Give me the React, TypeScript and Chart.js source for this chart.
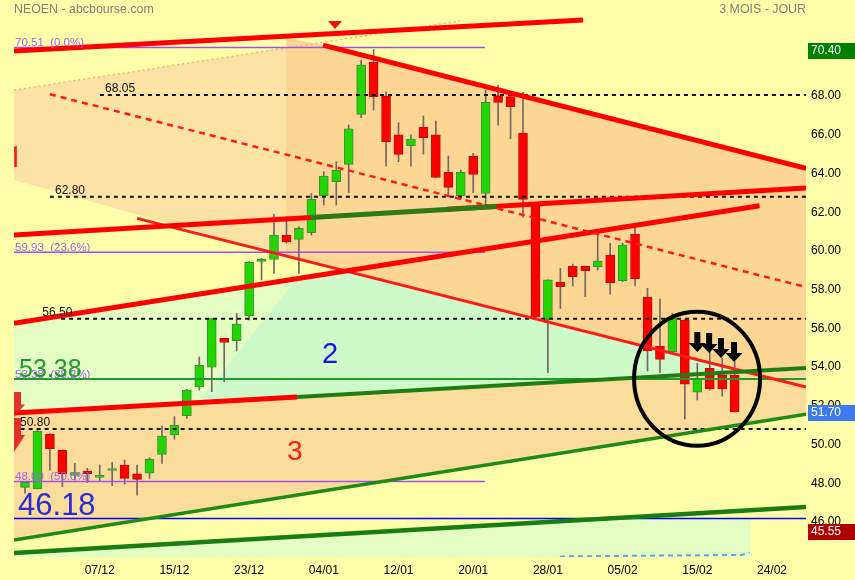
import React, { useEffect, useRef } from 'react';
import { Chart, registerables } from 'chart.js';

Chart.register(...registerables);

const FONT = "'Liberation Sans', Arial, sans-serif";

// ---- data ----
const dates = [
  '27/11', '30/11', '01/12', '02/12', '03/12', '04/12', '07/12', '08/12', '09/12', '10/12',
  '11/12', '14/12', '15/12', '16/12', '17/12', '18/12', '21/12', '22/12', '23/12', '24/12',
  '28/12', '29/12', '30/12', '31/12', '04/01', '05/01', '06/01', '07/01', '08/01', '11/01',
  '12/01', '13/01', '14/01', '15/01', '18/01', '19/01', '20/01', '21/01', '22/01', '25/01',
  '26/01', '27/01', '28/01', '29/01', '01/02', '02/02', '03/02', '04/02', '05/02', '08/02',
  '09/02', '10/02', '11/02', '12/02', '15/02', '16/02', '17/02', '18/02',
];
const opens = [
  47.79, 47.72, 50.54, 49.70, 48.40, 48.63, 48.30, 48.66, 48.94, 48.48,
  48.52, 49.49, 50.50, 51.49, 52.98, 53.99, 55.48, 55.36, 56.65, 59.46,
  59.56, 60.82, 60.60, 60.94, 62.85, 63.57, 64.47, 67.05, 69.74, 68.00,
  65.99, 65.43, 66.38, 65.99, 64.06, 62.85, 64.90, 62.97, 68.02, 67.97,
  66.08, 62.37, 56.43, 58.38, 59.20, 59.20, 59.18, 59.79, 58.46, 60.87,
  57.62, 55.09, 54.79, 56.43, 52.70, 53.93, 53.59, 53.59,
];
const highs = [
  48.10, 50.72, 50.56, 49.72, 49.03, 48.77, 48.94, 49.08, 49.20, 48.94,
  49.32, 50.95, 51.44, 52.85, 54.53, 56.52, 55.50, 56.77, 59.45, 59.62,
  61.90, 61.77, 61.25, 62.97, 64.09, 64.61, 66.50, 69.86, 70.40, 68.22,
  66.62, 65.99, 66.97, 66.71, 64.90, 64.18, 65.04, 68.31, 68.57, 68.00,
  68.19, 62.40, 58.50, 59.10, 59.32, 59.22, 60.87, 60.39, 60.39, 61.22,
  58.07, 57.51, 56.78, 56.45, 54.19, 54.88, 54.45, 54.28,
];
const lows = [
  47.49, 47.70, 48.68, 47.82, 48.17, 48.03, 48.13, 47.87, 47.96, 47.39,
  48.25, 49.03, 50.27, 51.35, 52.81, 52.73, 53.24, 54.84, 56.43, 58.50,
  58.84, 60.40, 58.84, 60.82, 62.37, 62.37, 63.01, 66.88, 67.28, 64.38,
  64.61, 64.38, 65.00, 63.80, 62.80, 62.66, 63.01, 62.37, 66.50, 65.80,
  61.73, 56.55, 53.71, 57.03, 58.19, 57.64, 59.01, 57.76, 58.41, 58.19,
  53.80, 53.71, 54.70, 51.32, 52.30, 52.80, 52.50, 51.68,
];
const closes = [
  48.05, 50.68, 49.78, 48.48, 48.55, 48.49, 48.42, 48.70, 48.25, 48.20,
  49.24, 50.44, 50.99, 52.81, 54.09, 56.50, 55.27, 56.22, 59.41, 59.58,
  60.82, 60.47, 61.17, 62.66, 63.87, 64.18, 66.30, 69.60, 67.97, 65.64,
  64.99, 65.78, 65.85, 63.80, 63.28, 64.06, 63.95, 67.67, 67.67, 67.45,
  62.66, 56.59, 58.50, 58.15, 58.67, 58.98, 59.48, 58.36, 60.30, 58.56,
  54.83, 54.40, 56.52, 53.12, 53.42, 52.87, 52.87, 51.70,
];

const xTickIndex = [6, 12, 18, 24, 30, 36, 42, 48, 54, 60];
const xTickLabels = ['07/12', '15/12', '23/12', '04/01', '12/01', '20/01', '28/01', '05/02', '15/02', '24/02'];
const yTicks = [46, 48, 50, 52, 54, 56, 58, 60, 62, 64, 66, 68];

const X_MIN = -0.884;
const X_MAX = 62.73;
const Y_MIN = 44.19;
const Y_MAX = 72.96;

// horizontal levels
const levelValues = [68.05, 62.8, 56.5, 50.8];
const levelLabels = ['68.05', '62.80', '56.50', '50.80'];
const levelLineStart = [6.02, 2.0, 2.9, -0.35];
const levelLabelStart = [6.43, 2.41, 1.39, -0.4];
const fibValues = [70.51, 59.93, 53.38, 48.09];
const fibLabels = ['70.51  (0.0%)', '59.93  (23.6%)', '53.38  (38.2%)', '48.09  (50.0%)'];
const fibEnd = 36.95;
const pivotValue = 53.38;
const supportValue = 46.18;
const priceMarks = [70.4, 51.7, 45.55];
const priceMarkColors = ['#008000', '#3C7BEF', '#B00000'];

// trend lines (x = day index, y = price)
const trendTop = [[-0.884, 70.32], [44.82, 71.93]];
const trendFall = [[23.94, 70.63], [62.73, 64.27]];
const trendMidDash = [[2.0, 68.09], [62.73, 58.13]];
const trendA1 = [[-0.884, 60.82], [22.97, 61.73]];
const trendA2 = [[22.97, 61.73], [37.91, 62.3]];
const trendA3 = [[33.9, 62.15], [62.73, 63.25]];
const trendRise = [[-0.884, 56.26], [59.0, 62.33]];
const trendFan = [[9.0, 61.68], [62.73, 52.97]];
const trendB1 = [[-0.884, 51.63], [21.85, 52.46]];
const trendB2 = [[21.85, 52.46], [62.73, 53.95]];
const trendC = [[-0.884, 45.07], [62.73, 51.57]];
const trendD = [[-0.884, 44.39], [62.73, 46.77]];
const trendDotted = [[-0.884, 68.31], [34.94, 71.87]];
const trendBlueDash = [[42.97, 44.22], [57.6, 44.3], [58.2, 44.42]];

// zones
const zoneLeftPeach = [[-0.884, 68.31], [20.96, 70.49], [20.96, 59.74], [-0.884, 63.66]];
const zoneRightPeach = [[20.96, 71.0], [23.94, 70.63], [62.73, 64.27], [62.73, 52.97], [20.96, 59.74]];
const zoneLowPeach = [[-0.884, 51.63], [62.73, 53.95], [62.73, 51.57], [-0.884, 45.07]];
const zoneLime = [[-0.884, 56.26], [25.77, 58.96], [57.83, 53.77], [-0.884, 51.63]];
const zoneMint = [[13.9, 52.17], [21.85, 58.56], [25.77, 58.96], [57.83, 53.77]];
const zoneBottom = [[-0.884, 44.39], [47.55, 46.18], [58.31, 46.18], [58.31, 43.0], [-0.884, 43.0]];

// annotations
const circleCenter = [53.98, 53.4];
const circleRadius = [5.06, 3.46];
const arrowTips = [[54, 54.78], [54.95, 54.73], [55.9, 54.47], [56.95, 54.26]];
const redArrows = [[-0.884, 52.71, 51.42], [-0.884, 51.37, 49.61]];
const topMarker = [24.9, 71.87];
const zoneOneLabel = [-0.6, 64.33];

const GREEN = '#22D400';
const GREEN_B = '#3C8E3C';
const RED = '#FF0000';
const RED_B = '#B41010';

function lineDs(pts: number[][], color: string, width: number, order: number, dash: number[] = []) {
  return {
    type: 'line' as const,
    data: pts.map(([x, y]) => ({ x, y })),
    borderColor: color,
    borderWidth: width,
    borderDash: dash,
    borderCapStyle: 'butt' as const,
    pointRadius: 0,
    fill: false,
    tension: 0,
    order,
  };
}

const overlay = {
  id: 'overlay',
  beforeDraw(chart: any) {
    const ctx = chart.ctx;
    ctx.save();
    ctx.fillStyle = '#FFFFAA';
    ctx.fillRect(0, 0, chart.width, chart.height);
    ctx.restore();
  },
  beforeDatasetsDraw(chart: any) {
    const ctx = chart.ctx;
    const xs = chart.scales.x;
    const ys = chart.scales.y;
    const a = chart.chartArea;
    const poly = (pts: number[][], color: string) => {
      ctx.beginPath();
      pts.forEach(([x, y], i) => {
        const px = xs.getPixelForValue(x);
        const py = ys.getPixelForValue(y);
        if (i === 0) ctx.moveTo(px, py);
        else ctx.lineTo(px, py);
      });
      ctx.closePath();
      ctx.fillStyle = color;
      ctx.fill();
    };
    ctx.save();
    ctx.beginPath();
    ctx.rect(a.left, a.top, a.right - a.left, a.bottom - a.top);
    ctx.clip();
    poly(zoneLeftPeach, '#FCE2A5');
    poly(zoneRightPeach, '#FCD794');
    poly(zoneLowPeach, '#FCDC9B');
    poly(zoneLime, '#E3FDC3');
    poly(zoneMint, '#CEF9C9');
    poly(zoneBottom, '#E3FDC3');
    ctx.restore();
  },
  afterDatasetsDraw(chart: any) {
    const ctx = chart.ctx;
    const xs = chart.scales.x;
    const ys = chart.scales.y;
    const a = chart.chartArea;
    const X = (v: number) => xs.getPixelForValue(v);
    const Y = (v: number) => ys.getPixelForValue(v);
    ctx.save();
    ctx.beginPath();
    ctx.rect(a.left, a.top, a.right - a.left, a.bottom - a.top);
    ctx.clip();

    // level labels
    ctx.font = `12px ${FONT}`;
    ctx.fillStyle = '#111';
    ctx.textAlign = 'left';
    ctx.textBaseline = 'alphabetic';
    levelValues.forEach((v, i) => {
      ctx.fillText(levelLabels[i], X(levelLabelStart[i]), Y(v) - 3);
    });
    // fib labels
    ctx.font = `11.5px ${FONT}`;
    ctx.fillStyle = '#A062F0';
    fibValues.forEach((v, i) => {
      ctx.fillText(fibLabels[i], X(X_MIN) + 1, Y(v) - 1);
    });

    // big texts
    ctx.font = `25px ${FONT}`;
    ctx.fillStyle = '#1E9A2E';
    ctx.fillText(pivotValue.toFixed(2), X(-0.48), Y(53.49));
    ctx.font = `31px ${FONT}`;
    ctx.fillStyle = '#2A2AD8';
    ctx.fillText(supportValue.toFixed(2), X(-0.56), Y(46.36));
    ctx.font = `29px ${FONT}`;
    ctx.fillStyle = '#1414EE';
    ctx.textAlign = 'center';
    ctx.fillText('2', X(24.5), Y(54.21));
    ctx.fillStyle = '#FF1A1A';
    ctx.textAlign = 'left';
    ctx.font = `28px ${FONT}`;
    ctx.fillText('3', X(21.04), Y(49.2));
    ctx.font = `29px Roboto, 'Open Sans', sans-serif`;
    {
      const m = ctx.measureText('1');
      const inkRight = m.actualBoundingBoxRight || 11;
      ctx.fillText('1', X(zoneOneLabel[0]) - inkRight, Y(zoneOneLabel[1]));
    }

    // red arrows on left edge
    ctx.fillStyle = 'rgba(230,30,30,0.92)';
    redArrows.forEach(([x, top, tip]) => {
      const cx = X(x);
      const t = Y(top);
      const b = Y(tip);
      const headH = (b - t) * 0.5;
      ctx.beginPath();
      ctx.moveTo(cx - 7, t);
      ctx.lineTo(cx + 7, t);
      ctx.lineTo(cx + 7, b - headH);
      ctx.lineTo(cx + 11, b - headH);
      ctx.lineTo(cx, b);
      ctx.lineTo(cx - 11, b - headH);
      ctx.lineTo(cx - 7, b - headH);
      ctx.closePath();
      ctx.fill();
    });

    // top marker triangle
    ctx.fillStyle = '#EE1111';
    {
      const cx = X(topMarker[0]);
      const t = Y(topMarker[1]);
      ctx.beginPath();
      ctx.moveTo(cx - 7, t);
      ctx.lineTo(cx + 7, t);
      ctx.lineTo(cx, t + 8);
      ctx.closePath();
      ctx.fill();
    }

    // ellipse
    ctx.strokeStyle = '#000';
    ctx.lineWidth = 4;
    ctx.beginPath();
    const ecx = X(circleCenter[0]);
    const ecy = Y(circleCenter[1]);
    const erx = Math.abs(X(circleCenter[0] + circleRadius[0]) - ecx);
    const ery = Math.abs(Y(circleCenter[1] + circleRadius[1]) - ecy);
    ctx.ellipse(ecx, ecy, erx, ery, 0, 0, Math.PI * 2);
    ctx.stroke();

    // black arrows
    ctx.fillStyle = '#000';
    arrowTips.forEach(([x, tip]) => {
      const cx = X(x);
      const b = Y(tip);
      const t = b - 20;
      const hh = 9;
      ctx.beginPath();
      ctx.moveTo(cx - 3, t);
      ctx.lineTo(cx + 3, t);
      ctx.lineTo(cx + 3, b - hh);
      ctx.lineTo(cx + 8.5, b - hh);
      ctx.lineTo(cx, b);
      ctx.lineTo(cx - 8.5, b - hh);
      ctx.lineTo(cx - 3, b - hh);
      ctx.closePath();
      ctx.fill();
    });
    ctx.restore();
  },
  afterDraw(chart: any) {
    const ctx = chart.ctx;
    const ys = chart.scales.y;
    const a = chart.chartArea;
    ctx.save();
    ctx.font = `12px ${FONT}`;
    ctx.textBaseline = 'middle';
    ctx.textAlign = 'left';
    priceMarks.forEach((v, i) => {
      const y = ys.getPixelForValue(v) + 1;
      ctx.fillStyle = priceMarkColors[i];
      ctx.fillRect(a.right + 2, Math.round(y - 8), chart.width - a.right - 2, 16);
      ctx.fillStyle = '#FFFFFF';
      ctx.fillText(v.toFixed(2), a.right + 5, y);
    });
    ctx.font = `12.4px ${FONT}`;
    ctx.fillStyle = '#808080';
    ctx.textBaseline = 'alphabetic';
    ctx.fillText('NEOEN - abcbourse.com', 14, 13);
    ctx.textAlign = 'right';
    ctx.fillText('3 MOIS - JOUR', a.right, 13);
    ctx.restore();
  },
};

export default function App() {
  const ref = useRef<HTMLCanvasElement | null>(null);
  useEffect(() => {
    if (!ref.current) return;
    const up = closes.map((c, i) => c >= opens[i]);
    const hLine = (v: number, x0: number, x1: number) => [[x0, v], [x1, v]];
    const datasets: any[] = [
      // horizontal levels
      ...levelValues.map((v, i) => lineDs(hLine(v, levelLineStart[i], X_MAX), '#111111', 2, 3, [4, 4])),
      ...fibValues.map((v) => lineDs(hLine(v, X_MIN, fibEnd), '#A050F0', 1.5, 6)),
      lineDs(hLine(supportValue, X_MIN, X_MAX), '#0000FF', 1.5, 5),
      lineDs(hLine(pivotValue, X_MIN, X_MAX), '#1E9A2E', 2, 4),
      // trend lines
      lineDs(trendDotted, '#F6B46A', 1.5, 7, [2, 3]),
      lineDs(trendTop, '#FF0000', 5, 2),
      lineDs(trendFall, '#FF0000', 5, 2),
      lineDs(trendMidDash, '#FF1A1A', 2.5, 2, [6, 5]),
      lineDs(trendA1, '#FF0000', 5, 2),
      lineDs(trendA3, '#FF0000', 5, 2),
      lineDs(trendA2, '#2B7A12', 5, 1),
      lineDs(trendRise, '#FF0000', 5, 2),
      lineDs(trendFan, '#FF1A1A', 3, 2),
      lineDs(trendB1, '#FF0000', 5, 2),
      lineDs(trendB2, '#1F7D14', 4, 1),
      lineDs(trendC, '#1F8A14', 3.5, 2),
      lineDs(trendD, '#1A7D12', 4.5, 2),
      lineDs(trendBlueDash, '#55AAF0', 2, 2, [5, 4]),
      // candles
      {
        type: 'bar',
        data: dates.map((_, i) => ({ x: i, y: [opens[i], closes[i]] })),
        backgroundColor: up.map((u) => (u ? GREEN : RED)),
        borderColor: up.map((u) => (u ? GREEN_B : RED_B)),
        borderWidth: 1,
        borderSkipped: false,
        barThickness: 9,
        minBarLength: 2,
        grouped: false,
        order: 10,
      },
      {
        type: 'bar',
        data: dates.map((_, i) => ({ x: i, y: [lows[i], highs[i]] })),
        backgroundColor: '#786464',
        borderWidth: 0,
        barThickness: 1,
        grouped: false,
        order: 11,
      },
    ];
    const chart = new Chart(ref.current, {
      type: 'bar',
      data: { datasets },
      options: {
        responsive: false,
        devicePixelRatio: 1,
        animation: false,
        events: [],
        layout: { padding: { left: 14, right: 0, top: 0, bottom: 0 } },
        plugins: { legend: { display: false }, tooltip: { enabled: false } },
        scales: {
          x: {
            type: 'linear',
            min: X_MIN,
            max: X_MAX,
            offset: false,
            grid: { display: false, drawTicks: false },
            border: { display: false },
            afterBuildTicks: (s: any) => {
              s.ticks = xTickIndex.map((v) => ({ value: v }));
            },
            afterFit: (s: any) => {
              s.height = 23;
              s.paddingLeft = 0;
              s.paddingRight = 0;
              s.paddingTop = 0;
              s.paddingBottom = 0;
            },
            ticks: {
              autoSkip: false,
              maxRotation: 0,
              padding: 6,
              color: '#000',
              font: { size: 12, family: FONT },
              callback: (_v: any, i: number) => xTickLabels[i],
            },
          },
          y: {
            position: 'right',
            min: Y_MIN,
            max: Y_MAX,
            grid: { display: false, drawTicks: false },
            border: { display: false },
            afterBuildTicks: (s: any) => {
              s.ticks = yTicks.map((v) => ({ value: v }));
            },
            afterFit: (s: any) => {
              s.width = 49;
              s.paddingTop = 0;
              s.paddingBottom = 0;
              s.paddingLeft = 0;
              s.paddingRight = 0;
            },
            ticks: {
              padding: 5,
              color: '#000',
              font: { size: 12, family: FONT },
              callback: (v: any) => Number(v).toFixed(2),
            },
          },
        },
      } as any,
      plugins: [overlay],
    });
    return () => chart.destroy();
  }, []);
  return (
    <div style={{ position: 'fixed', left: 0, top: 0, width: 855, height: 580 }}>
      <canvas ref={ref} width={855} height={580} style={{ display: 'block' }} />
    </div>
  );
}
